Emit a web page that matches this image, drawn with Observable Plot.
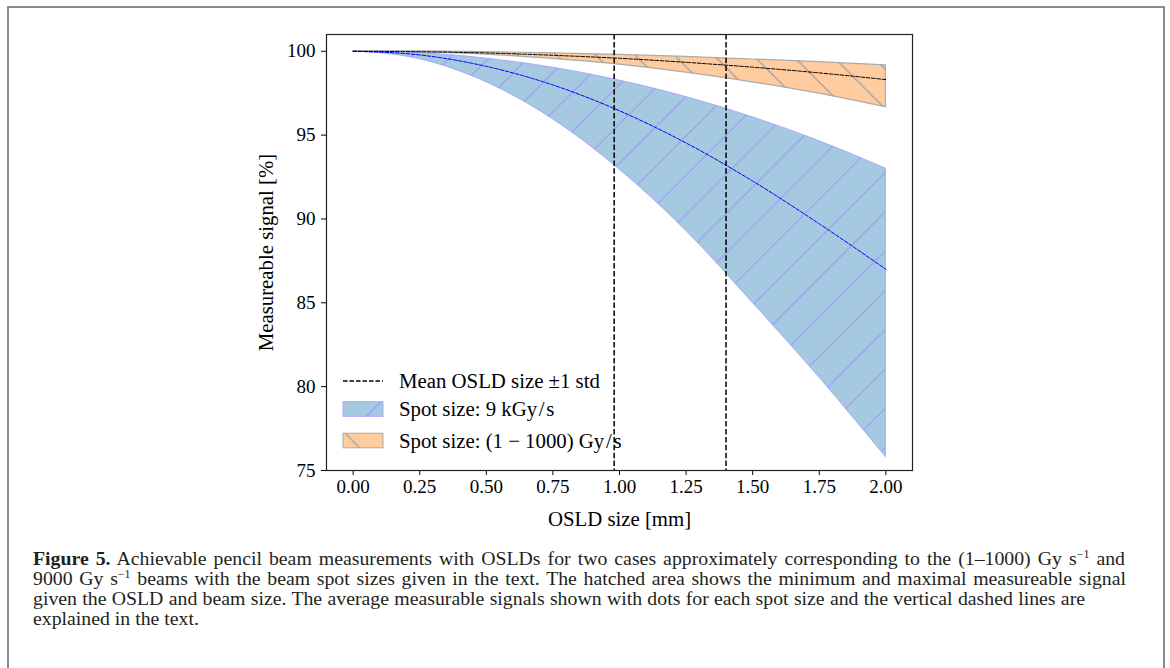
<!DOCTYPE html>
<html><head><meta charset="utf-8">
<script src="https://cdn.jsdelivr.net/npm/d3@7"></script>
<script src="https://cdn.jsdelivr.net/npm/@observablehq/plot@0.6"></script>
<style>
body{margin:0;background:#fff;width:1170px;height:668px;overflow:hidden;position:relative;font-family:"Liberation Serif",serif;}
#border{position:absolute;left:7px;top:6px;width:1154px;height:720px;border:2px solid #8c8c8c;border-bottom:none;}
#chart{position:absolute;left:250px;top:20px;}
#caption{position:absolute;left:33px;top:548px;font-size:19.8px;line-height:20px;color:#231f20;}
#caption .j{text-align:justify;text-align-last:justify;white-space:nowrap;}
sup{font-size:12px;vertical-align:7px;line-height:0;}
</style></head>
<body>
<div id="border"></div>
<div id="chart"></div>
<div id="caption">
<div class="j" style="width:1092px"><b>Figure 5.</b> Achievable pencil beam measurements with OSLDs for two cases approximately corresponding to the (1–1000) Gy s<sup>−1</sup> and</div>
<div class="j" style="width:1093px">9000 Gy s<sup>−1</sup> beams with the beam spot sizes given in the text. The hatched area shows the minimum and maximal measureable signal</div>
<div class="j" style="width:1052px">given the OSLD and beam size. The average measurable signals shown with dots for each spot size and the vertical dashed lines are</div>
<div>explained in the text.</div>
</div>
<script>
// ---- data ----
const xs = [0, 0.25, 0.5, 0.75, 1.0, 1.25, 1.5, 1.75, 2.0];
const blueUpper = [100, 99.89, 99.56, 99.02, 98.25, 97.27, 96.06, 94.64, 93.0];
const blueLower = [100, 99.53, 98.16, 95.95, 92.95, 89.3, 85.0, 80.55, 75.8];
const blueMean  = [100, 99.78, 99.1, 97.99, 96.45, 94.53, 92.26, 89.71, 87.0];
const orangeUpper = [100, 99.99, 99.95, 99.88, 99.78, 99.66, 99.51, 99.35, 99.16];
const orangeLower = [100, 99.95, 99.8, 99.55, 99.2, 98.73, 98.15, 97.47, 96.66];
const orangeMean  = [100, 99.97, 99.9, 99.76, 99.58, 99.34, 99.05, 98.71, 98.31];
const osldLines = [0.98, 1.40];
const xTicks = [0, 0.25, 0.5, 0.75, 1.0, 1.25, 1.5, 1.75, 2.0];
const yTicks = [75, 80, 85, 90, 95, 100];
const legendLabels = ["Mean OSLD size \u00b11 std", "Spot size: 9 kGy\u200a/\u200as", "Spot size: (1 \u2212 1000) Gy\u200a/\u200as"];

const blue = xs.map((x, i) => ({x, lo: blueLower[i], hi: blueUpper[i], mean: blueMean[i]}));
const orange = xs.map((x, i) => ({x, lo: orangeLower[i], hi: orangeUpper[i], mean: orangeMean[i]}));

const BLUE_FILL = "#a5c9e1", ORANGE_FILL = "#ffcc9f";
const HB = "#010203", HO = "#010204"; // placeholders replaced by patterns

const plot = Plot.plot({
  width: 680, height: 520,
  marginLeft: 76, marginRight: 18, marginTop: 14, marginBottom: 70,
  style: {fontFamily: "Liberation Serif, serif", fontSize: "19px", color: "#000", background: "transparent", overflow: "visible"},
  x: {domain: [-0.1, 2.1], ticks: xTicks, tickFormat: d3.format(".2f"), label: "OSLD size [mm]", labelArrow: "none", labelAnchor: "center", labelOffset: 55, tickSize: 5, tickPadding: 4},
  y: {domain: [75, 101.0], ticks: yTicks, tickFormat: d3.format("d"), label: "Measureable signal [%]", labelArrow: "none", labelAnchor: "center", labelOffset: 68, tickSize: 5, tickPadding: 6},
  marks: [
    Plot.areaY(blue, {x: "x", y1: "lo", y2: "hi", fill: BLUE_FILL, stroke: "#a9a9ff", strokeWidth: 1, curve: "monotone-x"}),
    Plot.areaY(blue, {x: "x", y1: "lo", y2: "hi", fill: HB, curve: "monotone-x"}),
    Plot.areaY(orange, {x: "x", y1: "lo", y2: "hi", fill: ORANGE_FILL, stroke: "#ababab", strokeWidth: 1.2, curve: "monotone-x"}),
    Plot.areaY(orange, {x: "x", y1: "lo", y2: "hi", fill: HO, curve: "monotone-x"}),
    Plot.line(blue, {x: "x", y: "mean", stroke: "#0000ff", strokeWidth: 1, strokeDasharray: "3.7,1.6", curve: "monotone-x"}),
    Plot.line(orange, {x: "x", y: "mean", stroke: "#000", strokeWidth: 1, strokeDasharray: "3.7,1.6", curve: "monotone-x"}),
    Plot.ruleX(osldLines, {stroke: "#000", strokeWidth: 1.5, strokeDasharray: "5.5,2.4"}),
    Plot.frame({stroke: "#222", strokeWidth: 1.2})
  ]
});
document.getElementById("chart").appendChild(plot);

const svg = d3.select(plot);
// slightly larger axis titles (Palatino-like width)
svg.selectAll('g[aria-label="x-axis label"], g[aria-label="y-axis label"]').attr("font-size", 20.8);

// hatch patterns
const defs = svg.insert("defs", ":first-child");
const w = 39.3;
const pb = defs.append("pattern").attr("id", "hatchBlue").attr("patternUnits", "userSpaceOnUse")
  .attr("width", w).attr("height", w).attr("x", 1.8).attr("y", 0);
pb.append("path").attr("d", `M0,${w}L${w},0M-2,2L2,-2M${w-2},${w+2}L${w+2},${w-2}`)
  .attr("stroke", "#9a98f7").attr("stroke-width", 1.2).attr("fill", "none");
const po = defs.append("pattern").attr("id", "hatchOrange").attr("patternUnits", "userSpaceOnUse")
  .attr("width", w).attr("height", w).attr("x", 35.6).attr("y", 0);
po.append("path").attr("d", `M0,0L${w},${w}M-2,${w-2}L2,${w+2}M${w-2},-2L${w+2},2`)
  .attr("stroke", "#8f9aa6").attr("stroke-width", 1.2).attr("fill", "none");
svg.selectAll(`[fill="${HB}"]`).attr("fill", "url(#hatchBlue)");
svg.selectAll(`[fill="${HO}"]`).attr("fill", "url(#hatchOrange)");

// legend (inside the plot area, lower left)
const lg = svg.append("g").attr("font-family", "Liberation Serif, serif").attr("font-size", 20.8).attr("text-anchor", "start");
const lx = 93, ly = [361, 389, 420.5];
lg.append("line").attr("x1", lx).attr("x2", lx + 40).attr("y1", ly[0]).attr("y2", ly[0])
  .attr("stroke", "#000").attr("stroke-width", 1.3).attr("stroke-dasharray", "4.5,2");
[[BLUE_FILL, "#a9a9ff", "url(#hatchBlue)"], [ORANGE_FILL, "#ababab", "url(#hatchOrange)"]].forEach(([f, s, h], i) => {
  const y = ly[i + 1] - 7.3;
  lg.append("rect").attr("x", lx).attr("y", y).attr("width", 40).attr("height", 14.6).attr("fill", f).attr("stroke", s);
  lg.append("rect").attr("x", lx).attr("y", y).attr("width", 40).attr("height", 14.6).attr("fill", h);
});
legendLabels.forEach((t, i) => {
  lg.append("text").attr("x", lx + 56).attr("y", ly[i]).attr("dy", "0.35em").attr("text-anchor", "start").text(t);
});
</script>
</body></html>
